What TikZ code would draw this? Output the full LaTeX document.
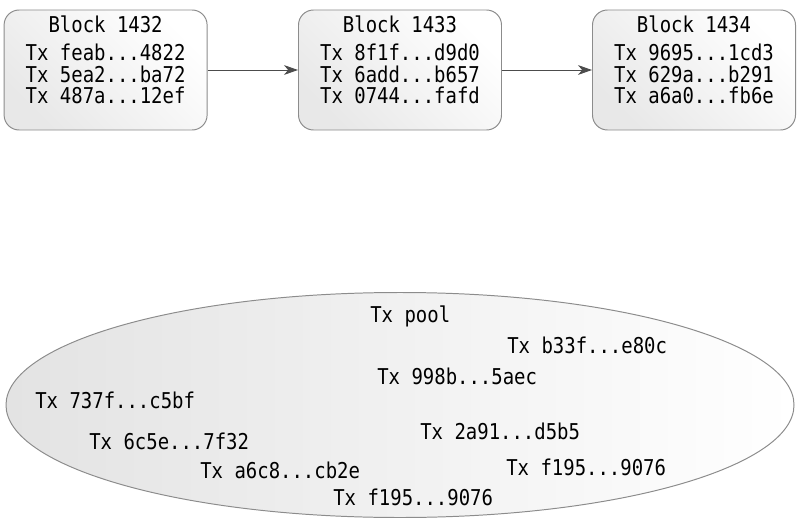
\documentclass[tikz,border=0pt]{standalone}
\usepackage{fontspec}
\usepackage{tikz}
\usetikzlibrary{arrows.meta,shapes.geometric}
\newfontfamily\txfont[FakeStretch=0.87]{DejaVu Sans Mono}
\newcommand{\blocktx}[4]{#1\\[5pt]Tx #2\\Tx #3\\Tx #4\rule[-15pt]{0pt}{0pt}}

\begin{document}
\begin{tikzpicture}[>={Stealth[length=10pt,width=7pt,inset=3pt]},
  font={\txfont\fontsize{15.5}{15.3}\selectfont},
  blockbox/.style={draw=black!45,line width=0.7pt,rounded corners=0.375cm,
    minimum width=5.075cm,minimum height=3cm,inner sep=0pt,align=center,
    top color=white,bottom color=black!9,shading angle=-45},
  poolbox/.style={ellipse,draw=black!45,line width=0.7pt,
    minimum width=19.7cm,minimum height=5.625cm,inner sep=0pt,
    left color=black!11,right color=white},
  tx/.style={anchor=base west,inner sep=0pt}]
\useasboundingbox (0,0) rectangle (20,13.15);
% chain of blocks
\node[blockbox] (b1432) at (2.64,11.4) {\blocktx{Block 1432}{feab...4822}{5ea2...ba72}{487a...12ef}};
\node[blockbox] (b1433) at (10,11.4) {\blocktx{Block 1433}{8f1f...d9d0}{6add...b657}{0744...fafd}};
\node[blockbox] (b1434) at (17.35,11.4) {\blocktx{Block 1434}{9695...1cd3}{629a...b291}{a6a0...fb6e}};
\draw[->,black!70,line width=0.7pt] (b1432) -- (b1433);
\draw[->,black!70,line width=0.7pt] (b1433) -- (b1434);
% pending transactions
\node[poolbox] (pool) at (10,3.025) {};
\node[tx] (pooltitle) at (9.25,5.1) {Tx pool};
\node[tx] (txb33f) at (12.675,4.325) {Tx b33f...e80c};
\node[tx] (tx998b) at (9.425,3.55) {Tx 998b...5aec};
\node[tx] (tx737f) at (0.875,2.95) {Tx 737f...c5bf};
\node[tx] (tx2a91) at (10.5,2.175) {Tx 2a91...d5b5};
\node[tx] (tx6c5e) at (2.225,1.925) {Tx 6c5e...7f32};
\node[tx] (txf195a) at (12.65,1.275) {Tx f195...9076};
\node[tx] (txa6c8) at (5.0,1.2) {Tx a6c8...cb2e};
\node[tx] (txf195b) at (8.325,0.525) {Tx f195...9076};
\end{tikzpicture}
\end{document}
